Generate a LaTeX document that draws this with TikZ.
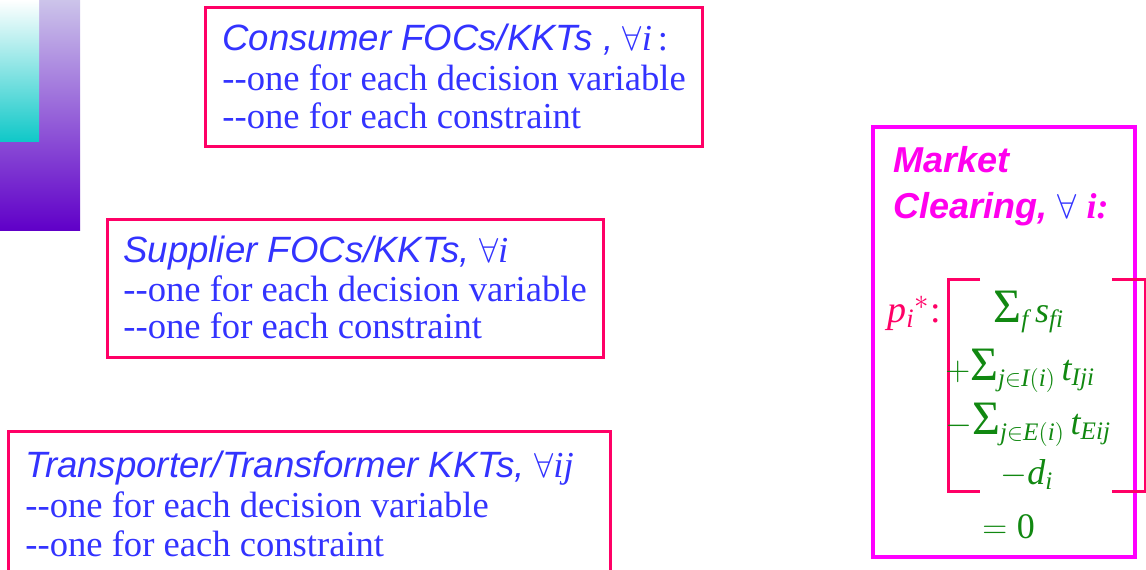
\documentclass[tikz,border=0pt]{standalone}
\usepackage{fontspec}
\setmainfont{Liberation Serif}
\newfontfamily\arialf{Liberation Sans}
\definecolor{boxred}{HTML}{FF0066}
\definecolor{txtblue}{HTML}{3333FF}
\definecolor{mag}{HTML}{FF00EE}
\definecolor{magbox}{HTML}{FF00FF}
\definecolor{mgreen}{HTML}{118811}
\definecolor{lav}{HTML}{CCC4EA}
\definecolor{deeppurple}{HTML}{6000C8}
\definecolor{cyanb}{HTML}{10C8C8}
\newcommand{\bigSig}{\mathop{\hbox{\fontsize{24}{24}\selectfont Σ}}\nolimits}
\newcommand{\vi}[1]{\mathit{#1}}
\begin{document}
\begin{tikzpicture}[x=0.5pt,y=-0.5pt,
  txt/.style={anchor=base west, inner sep=0pt, text=txtblue, font=\fontsize{18.3}{20}\selectfont},
  head/.style={txt},
  kktbox/.style={draw=boxred, line width=1.5pt},
  mth/.style={inner sep=0pt, text=mgreen, font=\fontsize{18}{20}\selectfont},
  mkt/.style={anchor=base west, inner sep=0pt, text=mag, font=\fontsize{18}{20}\selectfont\arialf\bfseries\itshape},
  brk/.style={draw=boxred, line width=1.5pt}]
\path[use as bounding box, clip] (0,0) rectangle (1146,569);
% decorative gradient bars
\shade[top color=lav, bottom color=deeppurple] (0,0) rectangle (80,230);
\shade[top color=white, bottom color=cyanb] (0,0) rectangle (39,141);
% Consumer
\draw[kktbox] (205,7) rectangle (702,146);
\node[head] (c1) at (222,50) {{\arialf\itshape Consumer FOCs/KKTs ,} $\forall\vi{i}\,$:};
\node[txt] (c2) at (222,90) {-{}-one for each decision variable};
\node[txt] (c3) at (222,128) {-{}-one for each constraint};
% Supplier
\draw[kktbox] (107,219) rectangle (603,357);
\node[head] (s1) at (123,262) {{\arialf\itshape Supplier FOCs/KKTs,} $\forall\vi{i}$};
\node[txt] (s2) at (123,301) {-{}-one for each decision variable};
\node[txt] (s3) at (123,338) {-{}-one for each constraint};
% Transporter
\draw[kktbox] (8,431) rectangle (610,600);
\node[head] (t1) at (25,477) {{\arialf\itshape Transporter/Transformer KKTs,} $\forall\vi{ij}$};
\node[txt] (t2) at (25,517) {-{}-one for each decision variable};
\node[txt] (t3) at (25,556) {-{}-one for each constraint};
% Market clearing
\draw[draw=magbox, line width=2pt] (873,127) rectangle (1135,557);
\node[mkt] (m1) at (893,172) {Market};
\node[mkt] (m2) at (893,218) {Clearing, {\normalfont\color{txtblue}$\forall$} {\normalfont\bfseries\itshape i:}};
\node[anchor=base west, inner sep=0pt, text=boxred, font=\fontsize{19}{20}\selectfont] (p) at (887,322) {$\vi{p}_{\vi{i}}{}^{*}$:};
\draw[brk] (980,279) -- (948,279) -- (948,491) -- (980,491);
\draw[brk] (1112,279) -- (1145,279) -- (1145,491) -- (1112,491);
\node[mth, anchor=base west] (e1) at (993,322) {$\bigSig_{\vi{f}}\vi{s}_{\vi{fi}}$};
\node[mth, anchor=base west] (e2) at (945,380) {$+\!\bigSig_{\vi{j}\in\vi{I(i)}}\vi{t}_{\vi{Iji}}$};
\node[mth, anchor=base west] (e3) at (945,434) {$-\!\bigSig_{\vi{j}\in\vi{E(i)}}\vi{t}_{\vi{Eij}}$};
\node[mth, anchor=base west] (e4) at (1000,484) {$-\vi{d}_{\vi{i}}$};
\node[mth, anchor=base west] (e5) at (982,538) {$=\mathrm{0}$};
\end{tikzpicture}
\end{document}
